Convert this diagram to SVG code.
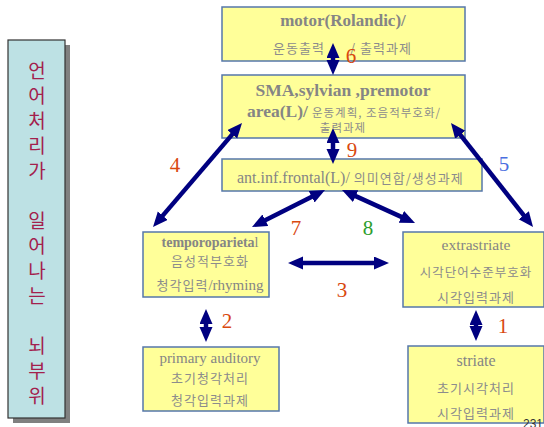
<svg xmlns="http://www.w3.org/2000/svg" width="544" height="427" viewBox="0 0 544 427">
  <style>
    .box { fill: #ffff99; stroke: #5577aa; stroke-width: 1.5; }
    .t { font-family: "Liberation Serif", "Noto Sans CJK KR", serif; fill: #858585; text-anchor: middle; }
    .s { text-anchor: start; }
    .b { font-weight: bold; }
    .k { font-family: "Noto Sans CJK KR", sans-serif; fill: #8c8c8c; letter-spacing: 1px; }
    .side { font-family: "Noto Sans CJK KR", sans-serif; font-size: 19px; fill: #a3204c; text-anchor: middle; }
    .conn line { stroke: #000080; stroke-width: 4.5; marker-start: url(#head); marker-end: url(#head); }
    .num { font-family: "Liberation Serif", serif; font-size: 21px; text-anchor: middle; }
    .red { fill: #d9480f; }
    .green { fill: #2e9e2e; }
    .blue { fill: #4a6ee0; }
  </style>
  <defs>
    <marker id="head" markerUnits="userSpaceOnUse" markerWidth="16" markerHeight="14" refX="3" refY="6.5" orient="auto-start-reverse">
      <path d="M0,0 L15,6.5 L0,13 z" fill="#000080"/>
    </marker>
  </defs>
  <rect width="544" height="427" fill="#ffffff"/>

  <!-- vertical title panel -->
  <g id="title-panel">
    <rect x="13" y="45" width="57" height="378" fill="#808080"/>
    <rect x="8" y="40" width="57" height="378" fill="#bde1e4" stroke="#333333" stroke-width="1.2"/>
    <text class="side" x="37" y="78">언</text>
    <text class="side" x="37" y="103">어</text>
    <text class="side" x="37" y="128">처</text>
    <text class="side" x="37" y="153">리</text>
    <text class="side" x="37" y="178">가</text>
    <text class="side" x="37" y="228">일</text>
    <text class="side" x="37" y="253">어</text>
    <text class="side" x="37" y="278">나</text>
    <text class="side" x="37" y="303">는</text>
    <text class="side" x="37" y="353">뇌</text>
    <text class="side" x="37" y="378">부</text>
    <text class="side" x="37" y="403">위</text>
  </g>

  <g id="motor">
    <rect class="box" x="222" y="7" width="243" height="54"/>
    <text class="t b" x="343" y="26" font-size="17">motor(Rolandic)/</text>
    <text class="t k s" font-size="13" y="53"><tspan x="273">운동출력</tspan><tspan x="350">/ 출력과제</tspan></text>
  </g>

  <g id="sma">
    <rect class="box" x="222" y="75" width="243" height="63"/>
    <text class="t b" x="343" y="96" font-size="17.5">SMA,sylvian ,premotor</text>
    <text class="t s" x="247" y="117"><tspan class="b" font-size="17.5">area(L)/</tspan><tspan class="k" font-size="11.5" dx="4">운동계획, 조음적부호화/</tspan></text>
    <text class="t k" x="343" y="132" font-size="11.5">출력과제</text>
  </g>

  <g id="ant-inf-frontal">
    <rect class="box" x="222" y="159" width="260" height="32"/>
    <text class="t s" x="237" y="183"><tspan font-size="16">ant.inf.frontal(L)/</tspan><tspan class="k" font-size="13" dx="4">의미연합/생성과제</tspan></text>
  </g>

  <g id="temporoparietal">
    <rect class="box" x="143" y="232" width="126" height="65"/>
    <text class="t" x="210" y="247" font-size="14"><tspan class="b">temporoparieta</tspan>l</text>
    <text class="t k" x="210" y="266" font-size="13">음성적부호화</text>
    <text class="t" x="210" y="290"><tspan class="k" font-size="13">청각입력</tspan><tspan font-size="15">/rhyming</tspan></text>
  </g>

  <g id="extrastriate">
    <rect class="box" x="403" y="232" width="141" height="75"/>
    <text class="t" x="476" y="250" font-size="15.5">extrastriate</text>
    <text class="t k" x="476" y="277" font-size="12.5">시각단어수준부호화</text>
    <text class="t k" x="476" y="302" font-size="13">시각입력과제</text>
  </g>

  <g id="primary-auditory">
    <rect class="box" x="143" y="347" width="136" height="64"/>
    <text class="t" x="210" y="363" font-size="15">primary auditory</text>
    <text class="t k" x="210" y="383" font-size="13">초기청각처리</text>
    <text class="t k" x="210" y="405" font-size="13">청각입력과제</text>
  </g>

  <g id="striate">
    <rect class="box" x="408" y="346" width="136" height="77"/>
    <text class="t" x="476" y="366" font-size="16">striate</text>
    <text class="t k" x="476" y="393" font-size="13">초기시각처리</text>
    <text class="t k" x="476" y="418" font-size="13">시각입력과제</text>
  </g>

  <g id="connectors" class="conn">
    <line x1="333" y1="55" x2="333" y2="63"/>
    <line x1="333" y1="140" x2="333" y2="152"/>
    <line x1="234.2" y1="132.1" x2="160.8" y2="217.9"/>
    <line x1="458.4" y1="132.4" x2="525.6" y2="217.6"/>
    <line x1="314.3" y1="195.4" x2="262.7" y2="221.6"/>
    <line x1="352.9" y1="194.9" x2="404.1" y2="218.1"/>
    <line x1="300" y1="263" x2="377" y2="263"/>
    <line x1="206" y1="321" x2="206" y2="330"/>
    <line x1="476" y1="322" x2="476" y2="329"/>
  </g>

  <g id="labels">
    <text class="num red" x="351" y="63">6</text>
    <text class="num red" x="352" y="157">9</text>
    <text class="num red" x="175" y="172">4</text>
    <text class="num blue" x="504" y="171">5</text>
    <text class="num red" x="296" y="235">7</text>
    <text class="num green" x="368" y="235">8</text>
    <text class="num red" x="342" y="297">3</text>
    <text class="num red" x="227" y="328">2</text>
    <text class="num red" x="503" y="333">1</text>
  </g>

  <text x="523" y="428" font-family="Liberation Sans, sans-serif" font-size="12" fill="#333333">231</text>
</svg>
